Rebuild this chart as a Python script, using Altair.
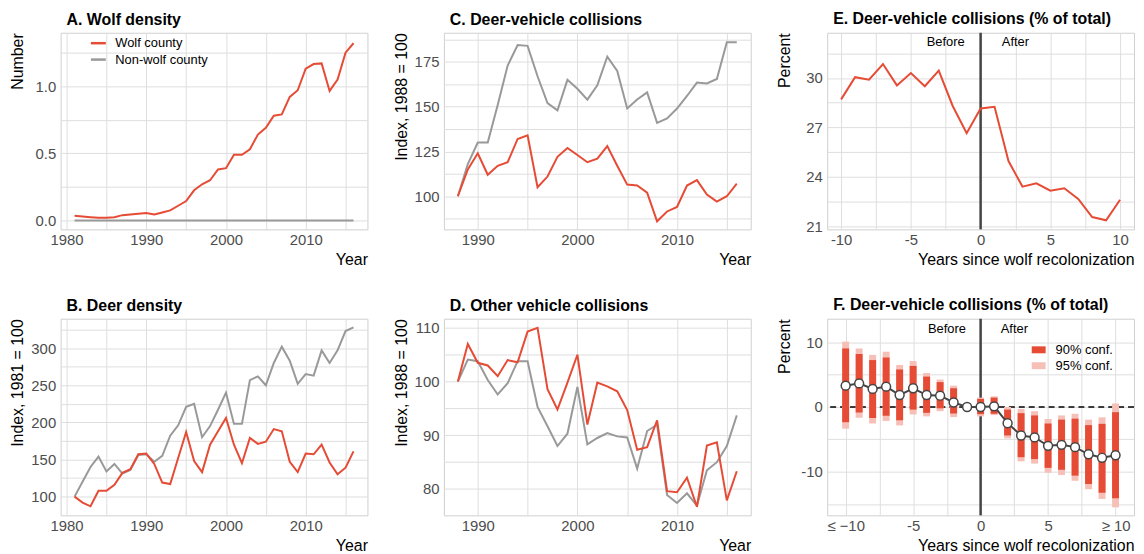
import altair as alt
import pandas as pd

FONT = "Liberation Sans"
RED = "#E64B35"
GREY = "#999999"
PINK = "#F6C0B8"
DARK = "#444444"
W, H = 309, 198

series_names = ["Wolf county", "Non-wolf county"]

# ---- A. Wolf density (1981-2016)
years_ab = list(range(1981, 2017))
wolf_density_wolf = [0.035, 0.030, 0.025, 0.020, 0.020, 0.025, 0.040, 0.045, 0.050, 0.055,
                     0.045, 0.060, 0.075, 0.110, 0.145, 0.225, 0.270, 0.300, 0.380, 0.390,
                     0.490, 0.490, 0.530, 0.640, 0.690, 0.780, 0.790, 0.920, 0.970, 1.130,
                     1.165, 1.170, 0.965, 1.050, 1.250, 1.320]
wolf_density_nonwolf = [0.0] * 36

# ---- B. Deer density index (1981 = 100)
deer_density_wolf = [100, 92, 87, 108, 108, 116, 132, 137, 157, 158, 144, 119, 117, 152, 187,
                     148, 133, 170, 188, 206, 170, 145, 179, 171, 174, 191, 188, 147, 133, 158,
                     157, 170, 146, 130, 139, 161]
deer_density_nonwolf = [100, 120, 140, 154, 134, 144, 131, 136, 156, 157, 147, 155, 182, 196, 221,
                        225, 180, 195, 217, 240, 198, 198, 257, 262, 250, 280, 302, 283, 252, 265,
                        263, 297, 280, 297, 323, 328]

# ---- C. Deer-vehicle collisions index (1988 = 100)
years_cd = list(range(1988, 2017))
dvc_wolf = [100, 115, 124, 112, 117, 119, 132, 134, 105, 111, 122, 127, 123, 119, 121, 128, 117,
            106.5, 106, 102, 86, 91.5, 94, 106, 109, 101, 97, 100, 107]
dvc_nonwolf = [100, 118, 130, 130, 151, 173, 184.5, 184, 167, 152, 148, 165, 160, 154, 162, 178,
               170, 149, 154, 158, 141, 143.5, 149, 156, 163.5, 163, 165.5, 186, 186]

# ---- D. Other vehicle collisions index (1988 = 100)
ovc_wolf = [100, 107, 103.5, 103, 101, 104, 103.6, 109.3, 110, 98.6, 94.8, 99.8, 105, 92, 99.8,
            99.1, 98.2, 94.7, 87.3, 87.8, 92.8, 79.6, 79.4, 82.1, 76.7, 88.1, 88.7, 77.9, 83.3]
ovc_nonwolf = [100, 104.1, 103.8, 100.3, 97.6, 99.7, 103.8, 103.8, 95.3, 91.7, 88, 90.3, 99, 88.3,
               89.5, 90.4, 89.8, 89.6, 83.8, 90.8, 92, 78.9, 77.4, 79.2, 76.9, 83.5, 85, 88, 93.7]

# ---- E. DVC share of total, by years since recolonization
years_since = list(range(-10, 11))
dvc_share = [28.7, 30.05, 29.9, 30.85, 29.55, 30.3, 29.5, 30.45, 28.3, 26.65, 28.15, 28.25,
             24.95, 23.4, 23.6, 23.15, 23.3, 22.65, 21.55, 21.35, 22.6]

# ---- F. Event-study estimates with confidence intervals
est = [3.3, 3.65, 2.8, 3.15, 1.85, 2.9, 1.85, 1.75, 0.7, 0.0, 0.0, 0.1, -2.5, -4.4, -4.7,
       -6.0, -5.85, -6.2, -7.3, -7.85, -7.45]
ci90_hi = [9.05, 8.2, 7.25, 7.65, 5.8, 6.35, 4.7, 3.85, 2.9, None, 1.25, 1.45, -0.4, -0.95,
           -1.3, -2.55, -1.95, -1.8, -2.8, -2.6, -0.8]
ci90_lo = [-2.35, -0.85, -1.7, -1.35, -2.05, -0.4, -0.9, -0.2, -1.0, None, -1.1, -1.05, -4.4,
           -7.75, -8.05, -9.4, -9.7, -10.6, -11.9, -13.25, -14.1]
ci95_hi = [10.1, 9.05, 8.05, 8.55, 6.5, 7.1, 5.25, 4.25, 3.3, None, 1.45, 1.65, 0.0, -0.3,
           -0.65, -1.85, -1.3, -1.05, -1.95, -1.6, 0.55]
ci95_lo = [-3.35, -1.65, -2.55, -2.15, -2.85, -1.15, -1.45, -0.65, -1.55, None, -1.45, -1.25,
           -4.85, -8.4, -8.75, -10.15, -10.5, -11.4, -12.7, -14.2, -15.5]
conf_names = ["90% conf.", "95% conf."]

phase_labels = ["Before", "After"]
phase_x = [-2.5, 2.5]
phase_y_e = 32.2
phase_y_f = 12.1
recolonization = 0
zero_effect = 0

# ---- tick values / labels
year_grid_ab = [1980, 1985, 1990, 1995, 2000, 2005, 2010, 2015]
year_grid_cd = [1990, 1995, 2000, 2005, 2010, 2015]
year_ticks_ab = [1980, 1990, 2000, 2010]
year_labels_ab = ["1980", "1990", "2000", "2010"]
year_ticks_cd = [1990, 2000, 2010]
year_labels_cd = ["1990", "2000", "2010"]
a_grid = [0, 0.25, 0.5, 0.75, 1.0, 1.25]
a_ticks = [0, 0.5, 1.0]
a_labels = ["0.0", "0.5", "1.0"]
b_grid = [100, 125, 150, 175, 200, 225, 250, 275, 300, 325]
b_ticks = [100, 150, 200, 250, 300]
b_labels = ["100", "150", "200", "250", "300"]
c_grid = [87.5, 100, 112.5, 125, 137.5, 150, 162.5, 175, 187.5]
c_ticks = [100, 125, 150, 175]
c_labels = ["100", "125", "150", "175"]
d_grid = [80, 85, 90, 95, 100, 105, 110]
d_ticks = [80, 90, 100, 110]
d_labels = ["80", "90", "100", "110"]
e_grid = [21, 22.5, 24, 25.5, 27, 28.5, 30, 31.5]
e_ticks = [21, 24, 27, 30]
e_labels = ["21", "24", "27", "30"]
f_grid = [-15, -10, -5, 0, 5, 10]
f_ticks = [-10, 0, 10]
f_labels = ["-10", "0", "10"]
t_grid = [-10, -7.5, -5, -2.5, 0, 2.5, 5, 7.5, 10]
t_ticks = [-10, -5, 0, 5, 10]
e_xlabels = ["-10", "-5", "0", "5", "10"]
f_xlabels = ["\u2264 \u221210", "-5", "0", "5", "\u2265 10"]


def lab_expr(values, labels):
    expr = "''"
    for v, l in reversed(list(zip(values, labels))):
        expr = f"(datum.value == {v} ? '{l}' : {expr})"
    return expr


def axis(title, grid, ticks, labels, **kw):
    return alt.Axis(title=title, values=grid, labelExpr=lab_expr(ticks, labels), **kw)


def yaxis(title, grid, ticks, labels):
    return axis(title, grid, ticks, labels, titleX=-35)


def scale(dom):
    return alt.Scale(domain=dom, nice=False, zero=False)


def ts_panel(years, wolf, nonwolf, title, xdom, ydom, xaxis, yax, legend=None):
    df = pd.DataFrame({
        "year": years * 2,
        "value": list(wolf) + list(nonwolf),
        "series": [series_names[0]] * len(years) + [series_names[1]] * len(years),
    })
    color = alt.Color("series:N", scale=alt.Scale(domain=series_names, range=[RED, GREY]),
                      legend=legend)
    enc = dict(x=alt.X("year:Q", scale=scale(xdom), axis=xaxis),
               y=alt.Y("value:Q", scale=scale(ydom), axis=yax),
               color=color)
    base = alt.Chart(df)
    grey = base.transform_filter(alt.datum.series == series_names[1]).mark_line(
        strokeWidth=2).encode(**enc)
    red = base.transform_filter(alt.datum.series == series_names[0]).mark_line(
        strokeWidth=2).encode(**enc)
    return alt.layer(grey, red).properties(width=W, height=H, title=title)


legend_a = alt.Legend(orient="none", legendX=29, legendY=1.5, title=None, symbolType="stroke",
                      symbolSize=225, symbolStrokeWidth=2.5, labelFontSize=13, labelOffset=8,
                      rowPadding=0.5, padding=0, labelFont=FONT, labelColor="black")

pA = ts_panel(years_ab, wolf_density_wolf, wolf_density_nonwolf, "A. Wolf density",
              [1979.25, 2017.75], [-0.066, 1.398],
              axis("Year", year_grid_ab, year_ticks_ab, year_labels_ab),
              yaxis("Number", a_grid, a_ticks, a_labels), legend=legend_a)
pB = ts_panel(years_ab, deer_density_wolf, deer_density_nonwolf, "B. Deer density",
              [1979.25, 2017.75], [74.8, 339.6],
              axis("Year", year_grid_ab, year_ticks_ab, year_labels_ab),
              yaxis("Index, 1981 = 100", b_grid, b_ticks, b_labels))
pC = ts_panel(years_cd, dvc_wolf, dvc_nonwolf, "C. Deer-vehicle collisions",
              [1986.6, 2017.4], [81.5, 191.3],
              axis("Year", year_grid_cd, year_ticks_cd, year_labels_cd),
              yaxis("Index, 1988 = 100", c_grid, c_ticks, c_labels))
pD = ts_panel(years_cd, ovc_wolf, ovc_nonwolf, "D. Other vehicle collisions",
              [1986.6, 2017.4], [75.1, 111.7],
              axis("Year", year_grid_cd, year_ticks_cd, year_labels_cd),
              yaxis("Index, 1988 = 100", d_grid, d_ticks, d_labels))

XT = "Years since wolf recolonization"
t_dom = [-11, 11]


def tx(field, labels):
    return alt.X(field, type="quantitative", scale=scale(t_dom),
                 axis=axis(XT, t_grid, t_ticks, labels))


# ---- E panel
e_df = pd.DataFrame({"t": years_since, "share": dvc_share})
e_ydom = [20.8, 32.75]
e_y = lambda f: alt.Y(f, type="quantitative", scale=scale(e_ydom),
                      axis=yaxis("Percent", e_grid, e_ticks, e_labels))
vline_df = pd.DataFrame({"t0": [recolonization]})
phase_df_e = pd.DataFrame({"t": phase_x, "y": [phase_y_e] * 2, "label": phase_labels})

e_vline = alt.Chart(vline_df).mark_rule(color=DARK, strokeWidth=2.5).encode(x=tx("t0", e_xlabels))
e_line = alt.Chart(e_df).mark_line(color=RED, strokeWidth=2).encode(
    x=tx("t", e_xlabels), y=e_y("share"))
e_text = alt.Chart(phase_df_e).mark_text(font=FONT, fontSize=13, color="black",
                                         baseline="middle").encode(
    x=tx("t", e_xlabels), y=e_y("y"), text="label:N")
pE = alt.layer(e_vline, e_line, e_text).properties(
    width=W, height=H, title="E. Deer-vehicle collisions (% of total)")

# ---- F panel
f_ydom = [-16.74, 13.64]
f_y = lambda f: alt.Y(f, type="quantitative", scale=scale(f_ydom),
                      axis=yaxis("Percent", f_grid, f_ticks, f_labels))
f_df = pd.DataFrame({"t": years_since, "est": est, "lo90": ci90_lo, "hi90": ci90_hi,
                     "lo95": ci95_lo, "hi95": ci95_hi})
bars_df = f_df.dropna()
b90 = bars_df.assign(conf=conf_names[0])
b95 = bars_df.assign(conf=conf_names[1])
hline_df = pd.DataFrame({"y0": [zero_effect]})
phase_df_f = pd.DataFrame({"t": phase_x, "y": [phase_y_f] * 2, "label": phase_labels})

legend_f = alt.Legend(orient="none", legendX=206, legendY=24.3, title=None,
                      symbolType="M-1,-0.5H1V0.5H-1Z", symbolSize=196, symbolStrokeWidth=0,
                      labelFontSize=13, labelOffset=10, rowPadding=2, padding=0,
                      labelFont=FONT, labelColor="black", symbolOpacity=1)
conf_color = alt.Color("conf:N", scale=alt.Scale(domain=conf_names, range=[RED, PINK]),
                       legend=legend_f)

f_vline = alt.Chart(vline_df).mark_rule(color=DARK, strokeWidth=2.5).encode(x=tx("t0", f_xlabels))
f_hline = alt.Chart(hline_df).mark_rule(color="black", strokeWidth=1.3,
                                        strokeDash=[6, 4]).encode(y=f_y("y0"))
f_b95 = alt.Chart(b95).mark_bar(size=7, opacity=1).encode(
    x=tx("t", f_xlabels), y=f_y("lo95"), y2="hi95:Q", color=conf_color)
f_b90 = alt.Chart(b90).mark_bar(size=7, opacity=1).encode(
    x=tx("t", f_xlabels), y=f_y("lo90"), y2="hi90:Q", color=conf_color)
f_line = alt.Chart(f_df).mark_line(color=DARK, strokeWidth=2).encode(
    x=tx("t", f_xlabels), y=f_y("est"))
f_pts = alt.Chart(f_df).mark_point(shape="circle", filled=True, fill="white", stroke=DARK,
                                   strokeWidth=1.5, size=80, opacity=1).encode(
    x=tx("t", f_xlabels), y=f_y("est"))
f_text = alt.Chart(phase_df_f).mark_text(font=FONT, fontSize=13, color="black",
                                         baseline="middle").encode(
    x=tx("t", f_xlabels), y=f_y("y"), text="label:N")
pF = alt.layer(f_vline, f_hline, f_b95, f_b90, f_line, f_pts, f_text).properties(
    width=W, height=H, title="F. Deer-vehicle collisions (% of total)")

chart = alt.concat(pA, pC, pE, pB, pD, pF, columns=3,
                   spacing={"row": 28, "column": 24}).resolve_scale(
    color="independent").properties(
    padding={"left": 1, "top": 0, "right": 0, "bottom": 0}
).configure_view(
    stroke="#d0d0d0", strokeWidth=1
).configure_axis(
    domain=False, ticks=False, gridColor="#dedede", gridWidth=1,
    labelFont=FONT, labelFontSize=15, labelColor="#4d4d4d",
    titleFont=FONT, titleFontSize=16, titleFontWeight="normal", titleColor="black",
    titleAnchor="end", labelOverlap=False, labelFlush=False
).configure_axisX(
    labelPadding=3, titlePadding=4
).configure_axisY(
    labelPadding=5, titlePadding=4
).configure_title(
    font=FONT, fontSize=16, fontWeight="bold", anchor="start", frame="group",
    dx=6, offset=5, color="black"
)

chart.save("out.html", embed_options={"renderer": "svg", "actions": False})
